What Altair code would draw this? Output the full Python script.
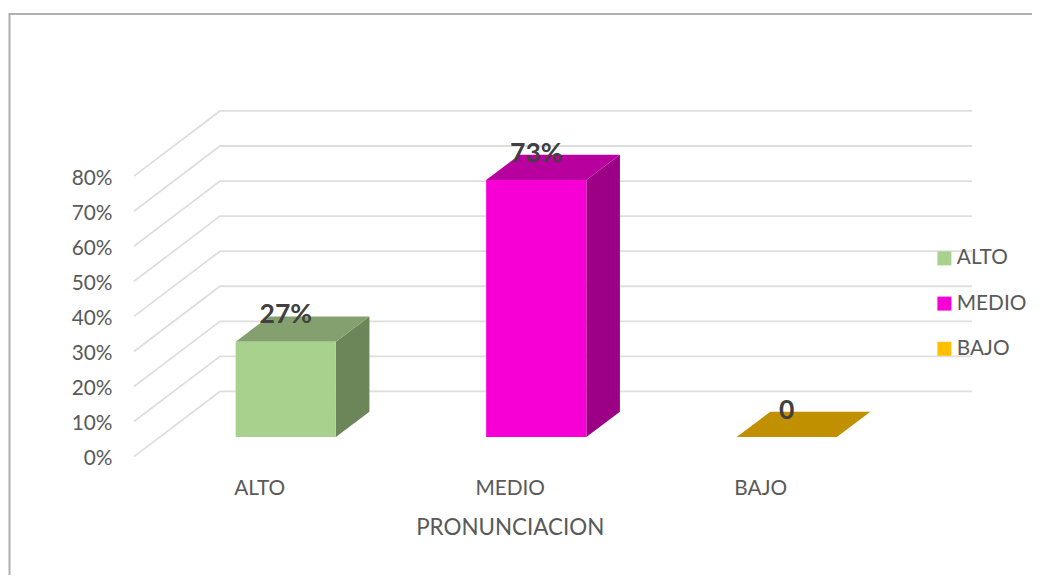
import altair as alt
import pandas as pd

categories = ["ALTO", "MEDIO", "BAJO"]
values = [27.2, 73.3, 0]
value_labels = ["27%", "73%", "0"]
levels = [0, 10, 20, 30, 40, 50, 60, 70, 80]
level_labels = ["0%", "10%", "20%", "30%", "40%", "50%", "60%", "70%", "80%"]
front_colors = ["#a9d18e", "#f600d6", "#ffc000"]
top_colors = ["#84a06f", "#b8009f", "#c09000"]
side_colors = ["#6c8659", "#9c0085", "#a67c00"]

FONT = "Lato"
W, H = 1024, 567
X0, STEP = 285.75, 250.5      # page px of first bar centre, px per category
Y0, UNIT = 437.0, 3.506       # page px of the bars' base, px per percent
BAR = 0.40                    # bar width in categories
DX, DY = 0.134, 7.2           # bar depth in categories / percent
BACK = 13.0                   # back wall zero, percent above the bar base
FRONT = -5.6                  # front edge of floor, percent below the bar base
WALL_L, WALL_R, EDGE_L = -0.2625, 2.7395, -0.606

def sx():
    return alt.Scale(domain=[(8 - X0) / STEP, (8 + W - X0) / STEP], nice=False, zero=False)

def sy():
    return alt.Scale(domain=[(Y0 - 8 - H) / UNIT, (Y0 - 8) / UNIT], nice=False, zero=False)

X = alt.X("x:Q", scale=sx(), axis=None)
Y = alt.Y("y:Q", scale=sy(), axis=None)
Y2 = alt.Y2("y2:Q")

grid_rows = []
for lv in levels:
    grid_rows += [
        {"lv": lv, "x": EDGE_L, "y": FRONT + lv},
        {"lv": lv, "x": WALL_L, "y": BACK + lv},
        {"lv": lv, "x": WALL_R, "y": BACK + lv},
    ]
grid = alt.Chart(pd.DataFrame(grid_rows)).mark_line(color="#dedede", strokeWidth=1.8).encode(
    x=X, y=Y, detail="lv:N"
)

front_rows, face_rows = [], []
for i, (c, v) in enumerate(zip(categories, values)):
    a, b = i - BAR / 2, i + BAR / 2
    front_rows.append({"cat": c, "x": a, "x2": b, "y": 0, "y2": v})
    face_rows += [
        {"face": f"s{i}", "col": side_colors[i], "x": b, "y": 0, "y2": v},
        {"face": f"s{i}", "col": side_colors[i], "x": b + DX, "y": DY, "y2": v + DY},
        {"face": f"t{i}", "col": top_colors[i], "x": a, "y": v, "y2": v},
        {"face": f"t{i}", "col": top_colors[i], "x": a + DX, "y": v, "y2": v + DY},
        {"face": f"t{i}", "col": top_colors[i], "x": b, "y": v, "y2": v + DY},
        {"face": f"t{i}", "col": top_colors[i], "x": b + DX, "y": v + DY, "y2": v + DY},
    ]

faces = alt.Chart(pd.DataFrame(face_rows)).mark_area(interpolate="linear").encode(
    x=X, y=Y, y2=Y2, detail="face:N", color=alt.Color("col:N", scale=None, legend=None)
)

front = alt.Chart(pd.DataFrame(front_rows)).mark_rect(strokeWidth=0).encode(
    x=X,
    x2=alt.X2("x2:Q"),
    y=Y,
    y2=Y2,
    fill=alt.Fill(
        "cat:N",
        scale=alt.Scale(domain=categories, range=front_colors),
        sort=categories,
        legend=alt.Legend(
            title=None, orient="none", legendX=926, legendY=240,
            symbolType="square", symbolSize=196, symbolStrokeWidth=0,
            labelFont=FONT, labelFontSize=20.8, labelColor="#595959",
            labelOffset=2, rowPadding=23.2, padding=0,
        ),
    ),
)

def text_layer(rows, size, color, weight="normal", align="center"):
    return alt.Chart(pd.DataFrame(rows)).mark_text(
        font=FONT, fontSize=size, color=color, fontWeight=weight, align=align, baseline="middle"
    ).encode(x=X, y=Y, text="t:N")

y_labels = text_layer(
    [{"x": (112.5 - X0) / STEP, "y": FRONT - 0.7 + lv, "t": t} for lv, t in zip(levels, level_labels)],
    20.8, "#595959", align="right",
)
cat_labels = text_layer(
    [{"x": i - 0.104, "y": -14.8, "t": c} for i, c in enumerate(categories)], 20.8, "#595959"
)
x_title = text_layer([{"x": 0.896, "y": -26.0, "t": "PRONUNCIACION"}], 22.4, "#595959")
val_labels = text_layer(
    [{"x": i, "y": v + 7.55, "t": t} for i, (v, t) in enumerate(zip(values, value_labels))],
    26.5, "#404040", weight="bold",
)

frame_left = alt.Chart(pd.DataFrame({"a": [0]})).mark_rule(color="#b1aeae", strokeWidth=2).encode(
    x=alt.value(1.5), y=alt.value(6), y2=alt.value(H)
)
frame_top = alt.Chart(pd.DataFrame({"a": [0]})).mark_rule(color="#b1aeae", strokeWidth=2).encode(
    y=alt.value(6), x=alt.value(0.5), x2=alt.value(W)
)

chart = alt.layer(
    frame_left, frame_top, grid, faces, front, y_labels, cat_labels, x_title, val_labels
).properties(
    width=W, height=H, padding=0, background="#ffffff",
    autosize=alt.AutoSizeParams(type="none"),
).configure_view(stroke=None)

chart.save("out.html", embed_options={"renderer": "svg", "actions": False})
